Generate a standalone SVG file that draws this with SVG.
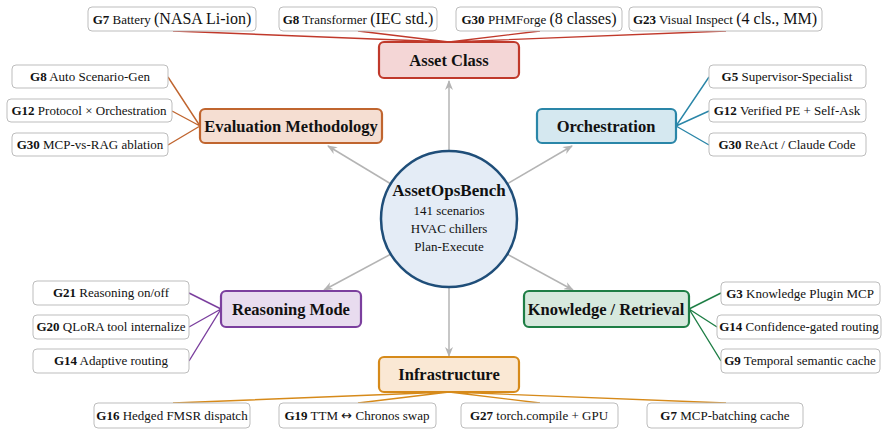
<svg xmlns="http://www.w3.org/2000/svg" width="889" height="435" viewBox="0 0 889 435">
<defs>
<style>
text{font-family:"Liberation Serif","Times New Roman",serif;fill:#111}
.leaf{fill:#fff;stroke:#bdbdbd;stroke-width:1}
.lt{font-size:13px;text-anchor:middle}
.big{font-size:16px}
.b{font-weight:bold}
.sym{font-family:"DejaVu Sans",sans-serif;font-size:13px}
.cat{stroke-width:2.2}
.ct{font-size:16.5px;font-weight:bold;text-anchor:middle}
.hub{stroke:#b4b4b4;stroke-width:1.5;fill:none;marker-end:url(#ah)}
.c1{stroke:#c0392b;stroke-width:1.4;fill:none}
.c2{stroke:#c0652f;stroke-width:1.4;fill:none}
.c3{stroke:#2a86a8;stroke-width:1.4;fill:none}
.c4{stroke:#7b3f9e;stroke-width:1.4;fill:none}
.c5{stroke:#1e7e45;stroke-width:1.4;fill:none}
.c6{stroke:#d68a1a;stroke-width:1.4;fill:none}
</style>
<marker id="ah" viewBox="0 0 10 8" refX="9" refY="4" markerWidth="10" markerHeight="8" markerUnits="userSpaceOnUse" orient="auto">
<path d="M0,0 L10,4 L0,8 L3,4 z" fill="#b4b4b4"/>
</marker>
</defs>

<g id="connectors">
<line class="hub" x1="449" y1="151" x2="449" y2="81"/>
<line class="hub" x1="449" y1="287" x2="449" y2="356"/>
<line class="hub" x1="391" y1="184" x2="328" y2="146"/>
<line class="hub" x1="507" y1="184" x2="572" y2="146"/>
<line class="hub" x1="391" y1="254" x2="324" y2="290"/>
<line class="hub" x1="507" y1="254" x2="573" y2="290"/>
<path class="c1" d="M173,31 L449,42 M358,31 L449,42 M540,31 L449,42 M726,31 L449,42"/>
<path class="c2" d="M168,77 L200,126 M172,111 L200,126 M168,145 L200,126"/>
<path class="c3" d="M709,77 L676,126 M709,111 L676,126 M709,145 L676,126"/>
<path class="c4" d="M189,293 L221,309 M189,327 L221,309 M189,361 L221,309"/>
<path class="c5" d="M721,293 L689,309 M717,327 L689,309 M721,361 L689,309"/>
<path class="c6" d="M173,403 L449,392 M358,403 L449,392 M540,403 L449,392 M726,403 L449,392"/>
</g>

<g id="hub">
<circle cx="449" cy="219" r="68" fill="#e4ecf6" stroke="#1f4e79" stroke-width="2.5"/>
<text x="449" y="196" style="font-size:17px;font-weight:bold;text-anchor:middle">AssetOpsBench</text>
<text x="449" y="215" style="font-size:13px;text-anchor:middle">141 scenarios</text>
<text x="449" y="233" style="font-size:13px;text-anchor:middle">HVAC chillers</text>
<text x="449" y="251" style="font-size:13px;text-anchor:middle">Plan-Execute</text>
</g>

<g id="asset-class">
<rect class="cat" x="379" y="42" width="140" height="36" rx="5" fill="#f4d6d6" stroke="#c0392b"/>
<text class="ct" x="449" y="66">Asset Class</text>
</g>
<g id="evaluation-methodology">
<rect class="cat" x="200" y="109" width="182" height="34" rx="5" fill="#f5ded2" stroke="#c0652f"/>
<text class="ct" x="291" y="132">Evaluation Methodology</text>
</g>
<g id="orchestration">
<rect class="cat" x="537" y="109" width="139" height="34" rx="5" fill="#d5e8f0" stroke="#2a86a8"/>
<text class="ct" x="606" y="132">Orchestration</text>
</g>
<g id="reasoning-mode">
<rect class="cat" x="221" y="291" width="140" height="36" rx="5" fill="#e8dcef" stroke="#7b3f9e"/>
<text class="ct" x="291" y="315">Reasoning Mode</text>
</g>
<g id="knowledge-retrieval">
<rect class="cat" x="524" y="291" width="165" height="36" rx="5" fill="#d6e9dd" stroke="#1e7e45"/>
<text class="ct" x="606" y="315">Knowledge / Retrieval</text>
</g>
<g id="infrastructure">
<rect class="cat" x="379" y="357" width="140" height="35" rx="5" fill="#fae8d4" stroke="#d68a1a"/>
<text class="ct" x="449" y="380">Infrastructure</text>
</g>

<g id="leaf-g7-battery">
<rect class="leaf" x="88" y="7" width="168" height="24" rx="4"/>
<text class="lt" x="172" y="24"><tspan class="b">G7</tspan> Battery <tspan class="big">(NASA Li-ion)</tspan></text>
</g>
<g id="leaf-g8-transformer">
<rect class="leaf" x="279" y="7" width="158" height="24" rx="4"/>
<text class="lt" x="358" y="24"><tspan class="b">G8</tspan> Transformer <tspan class="big">(IEC std.)</tspan></text>
</g>
<g id="leaf-g30-phmforge">
<rect class="leaf" x="456" y="7" width="166" height="24" rx="4"/>
<text class="lt" x="539" y="24"><tspan class="b">G30</tspan> PHMForge <tspan class="big">(8 classes)</tspan></text>
</g>
<g id="leaf-g23-visual">
<rect class="leaf" x="629" y="7" width="193" height="24" rx="4"/>
<text class="lt" x="725" y="24"><tspan class="b">G23</tspan> Visual Inspect <tspan class="big">(4 cls., MM)</tspan></text>
</g>

<g id="leaf-g8-auto">
<rect class="leaf" x="12" y="65" width="156" height="23" rx="4"/>
<text class="lt" x="90" y="81"><tspan class="b">G8</tspan> Auto Scenario-Gen</text>
</g>
<g id="leaf-g12-protocol">
<rect class="leaf" x="7" y="99" width="165" height="23" rx="4"/>
<text class="lt" x="89" y="115"><tspan class="b">G12</tspan> Protocol × Orchestration</text>
</g>
<g id="leaf-g30-mcp">
<rect class="leaf" x="12" y="133" width="156" height="23" rx="4"/>
<text class="lt" x="90" y="149"><tspan class="b">G30</tspan> MCP-vs-RAG ablation</text>
</g>

<g id="leaf-g5-supervisor">
<rect class="leaf" x="709" y="65" width="157" height="23" rx="4"/>
<text class="lt" x="787" y="81"><tspan class="b">G5</tspan> Supervisor-Specialist</text>
</g>
<g id="leaf-g12-verified">
<rect class="leaf" x="709" y="99" width="157" height="23" rx="4"/>
<text class="lt" x="787" y="115"><tspan class="b">G12</tspan> Verified PE + Self-Ask</text>
</g>
<g id="leaf-g30-react">
<rect class="leaf" x="709" y="133" width="157" height="23" rx="4"/>
<text class="lt" x="787" y="149"><tspan class="b">G30</tspan> ReAct / Claude Code</text>
</g>

<g id="leaf-g21-reasoning">
<rect class="leaf" x="33" y="281" width="156" height="24" rx="4"/>
<text class="lt" x="111" y="297"><tspan class="b">G21</tspan> Reasoning on/off</text>
</g>
<g id="leaf-g20-qlora">
<rect class="leaf" x="33" y="315" width="156" height="24" rx="4"/>
<text class="lt" x="111" y="331"><tspan class="b">G20</tspan> QLoRA tool internalize</text>
</g>
<g id="leaf-g14-adaptive">
<rect class="leaf" x="33" y="349" width="156" height="24" rx="4"/>
<text class="lt" x="111" y="365"><tspan class="b">G14</tspan> Adaptive routing</text>
</g>

<g id="leaf-g3-knowledge">
<rect class="leaf" x="721" y="282" width="159" height="23" rx="4"/>
<text class="lt" x="800" y="298"><tspan class="b">G3</tspan> Knowledge Plugin MCP</text>
</g>
<g id="leaf-g14-confidence">
<rect class="leaf" x="717" y="315" width="164" height="24" rx="4"/>
<text class="lt" x="799" y="331"><tspan class="b">G14</tspan> Confidence-gated routing</text>
</g>
<g id="leaf-g9-temporal">
<rect class="leaf" x="721" y="349" width="159" height="24" rx="4"/>
<text class="lt" x="800" y="365"><tspan class="b">G9</tspan> Temporal semantic cache</text>
</g>

<g id="leaf-g16-hedged">
<rect class="leaf" x="94" y="403" width="156" height="25" rx="4"/>
<text class="lt" x="172" y="420"><tspan class="b">G16</tspan> Hedged FMSR dispatch</text>
</g>
<g id="leaf-g19-ttm">
<rect class="leaf" x="279" y="403" width="157" height="25" rx="4"/>
<text class="lt" x="357" y="420"><tspan class="b">G19</tspan> TTM <tspan class="sym">↔</tspan> Chronos swap</text>
</g>
<g id="leaf-g27-torch">
<rect class="leaf" x="461" y="403" width="157" height="25" rx="4"/>
<text class="lt" x="539" y="420"><tspan class="b">G27</tspan> torch.compile + GPU</text>
</g>
<g id="leaf-g7-mcp">
<rect class="leaf" x="647" y="403" width="156" height="25" rx="4"/>
<text class="lt" x="725" y="420"><tspan class="b">G7</tspan> MCP-batching cache</text>
</g>
</svg>
